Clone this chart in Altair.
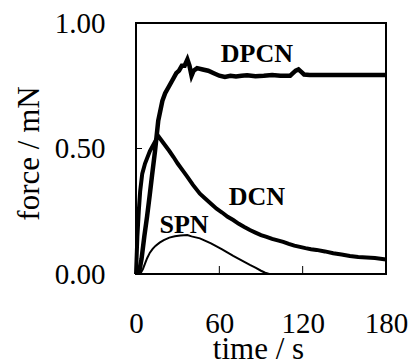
import altair as alt
import pandas as pd

# Force curves (time in s, force in mN)
dpcn_t = [2, 4, 6, 8, 10, 11.5, 13.7, 16, 19, 21, 23, 25, 27, 29, 31, 33, 35, 37, 38.5, 40,
          41.5, 44, 48, 52, 56, 60, 64, 68, 72, 76, 80, 86, 92, 98, 104, 108, 111, 113, 115,
          117, 119, 121, 125, 150, 180]
dpcn_f = [0.0, 0.06, 0.15, 0.23, 0.32, 0.39, 0.49, 0.61, 0.69, 0.72, 0.74, 0.76, 0.78, 0.80,
          0.81, 0.83, 0.83, 0.855, 0.83, 0.79, 0.81, 0.82, 0.815, 0.81, 0.80, 0.79, 0.785,
          0.79, 0.787, 0.79, 0.792, 0.788, 0.79, 0.793, 0.79, 0.79, 0.79, 0.80, 0.81, 0.815,
          0.805, 0.795, 0.793, 0.793, 0.793]

dcn_t = [0, 1, 2, 3, 4.5, 6.5, 10, 13, 16, 20, 24, 27, 30, 34, 37, 41, 46, 50, 54, 58, 62,
         66, 70, 74, 78, 82, 86, 90, 94, 98, 102, 106, 110, 114, 118, 122, 126, 130, 136,
         142, 148, 154, 160, 166, 172, 180]
dcn_f = [0.0, 0.15, 0.25, 0.33, 0.40, 0.44, 0.49, 0.52, 0.55, 0.52, 0.49, 0.466, 0.44, 0.41,
         0.387, 0.355, 0.32, 0.30, 0.28, 0.26, 0.245, 0.228, 0.215, 0.20, 0.187, 0.175,
         0.165, 0.155, 0.148, 0.14, 0.134, 0.128, 0.12, 0.113, 0.108, 0.103, 0.099, 0.096,
         0.09, 0.083, 0.078, 0.072, 0.068, 0.066, 0.064, 0.058]

spn_t = [3, 5, 8, 10, 12, 14, 17, 20, 24, 28, 32, 37, 40, 43, 46, 50, 54, 58, 62, 66, 70,
         74, 78, 82, 86, 90, 93, 96]
spn_f = [0.0, 0.02, 0.063, 0.085, 0.10, 0.112, 0.125, 0.135, 0.145, 0.150, 0.153, 0.155,
         0.150, 0.146, 0.142, 0.132, 0.122, 0.11, 0.098, 0.085, 0.072, 0.06, 0.048, 0.036,
         0.025, 0.013, 0.005, 0.0]

x_ticks = [0, 60, 120, 180]
y_ticks = [0.0, 0.5, 1.0]

label_names = ["DPCN", "DCN", "SPN"]
label_t = [87, 87, 34.6]
label_f = [0.876, 0.307, 0.195]

W, H = 250, 251
SERIF = "Liberation Serif, Times New Roman, Times, serif"

dpcn = pd.DataFrame({"t": dpcn_t, "f": dpcn_f})
dcn = pd.DataFrame({"t": dcn_t, "f": dcn_f})
spn = pd.DataFrame({"t": spn_t, "f": spn_f})
labels = pd.DataFrame({"name": label_names, "t": label_t, "f": label_f})
xt = pd.DataFrame({"t": x_ticks})
yt = pd.DataFrame({"f": y_ticks})

x_scale = alt.Scale(domain=[0, 180], nice=False)
y_scale = alt.Scale(domain=[0, 1], nice=False)

x_enc = alt.X(
    "t:Q", scale=x_scale,
    axis=alt.Axis(
        title="time / s", values=x_ticks, grid=False, domain=False, ticks=False,
        labelFont=SERIF, labelFontSize=29, labelColor="black", labelPadding=35,
        labelFlush=False,
        titleFont=SERIF, titleFontSize=31, titleFontWeight="normal", titleColor="black",
        titleBaseline="alphabetic", titleY=84, titleX=122,
    ),
)
y_enc = alt.Y(
    "f:Q", scale=y_scale,
    axis=alt.Axis(
        title="force / mN", values=y_ticks, format=".2f", grid=False, domain=False,
        ticks=False, labelFont=SERIF, labelFontSize=29, labelColor="black",
        labelPadding=31, labelFlush=False,
        titleFont=SERIF, titleFontSize=31, titleFontWeight="normal", titleColor="black",
        titleBaseline="alphabetic", titleX=-98, titleY=130, titleAngle=-90,
        titleAlign="center",
    ),
)

base_axes = alt.Chart(dcn).mark_line(stroke="black", strokeWidth=4).encode(x=x_enc, y=y_enc)

dpcn_line = alt.Chart(dpcn).mark_line(stroke="black", strokeWidth=4.5).encode(
    x=alt.X("t:Q", scale=x_scale), y=alt.Y("f:Q", scale=y_scale)
)
spn_line = alt.Chart(spn).mark_line(stroke="black", strokeWidth=2).encode(
    x=alt.X("t:Q", scale=x_scale), y=alt.Y("f:Q", scale=y_scale)
)

# inward tick marks
x_tick_marks = alt.Chart(xt).mark_rule(stroke="black", strokeWidth=1).encode(
    x=alt.X("t:Q", scale=x_scale), y=alt.value(H), y2=alt.value(H - 8)
)
y_tick_marks = alt.Chart(yt).mark_rule(stroke="black", strokeWidth=1).encode(
    y=alt.Y("f:Q", scale=y_scale), x=alt.value(0), x2=alt.value(6)
)

text = alt.Chart(labels).mark_text(
    font=SERIF, fontSize=26, fontWeight="bold", color="black",
    align="center", baseline="middle",
).encode(
    x=alt.X("t:Q", scale=x_scale), y=alt.Y("f:Q", scale=y_scale), text="name:N"
)

chart = alt.layer(
    base_axes, dpcn_line, spn_line, x_tick_marks, y_tick_marks, text
).properties(
    width=W, height=H,
    autosize=alt.AutoSizeParams(type="none"),
    padding={"left": 136, "top": 23, "right": 24, "bottom": 90},
    background="white",
).configure_view(stroke="black", strokeWidth=2)

chart.save("out.html", embed_options={"renderer": "svg", "actions": False})
